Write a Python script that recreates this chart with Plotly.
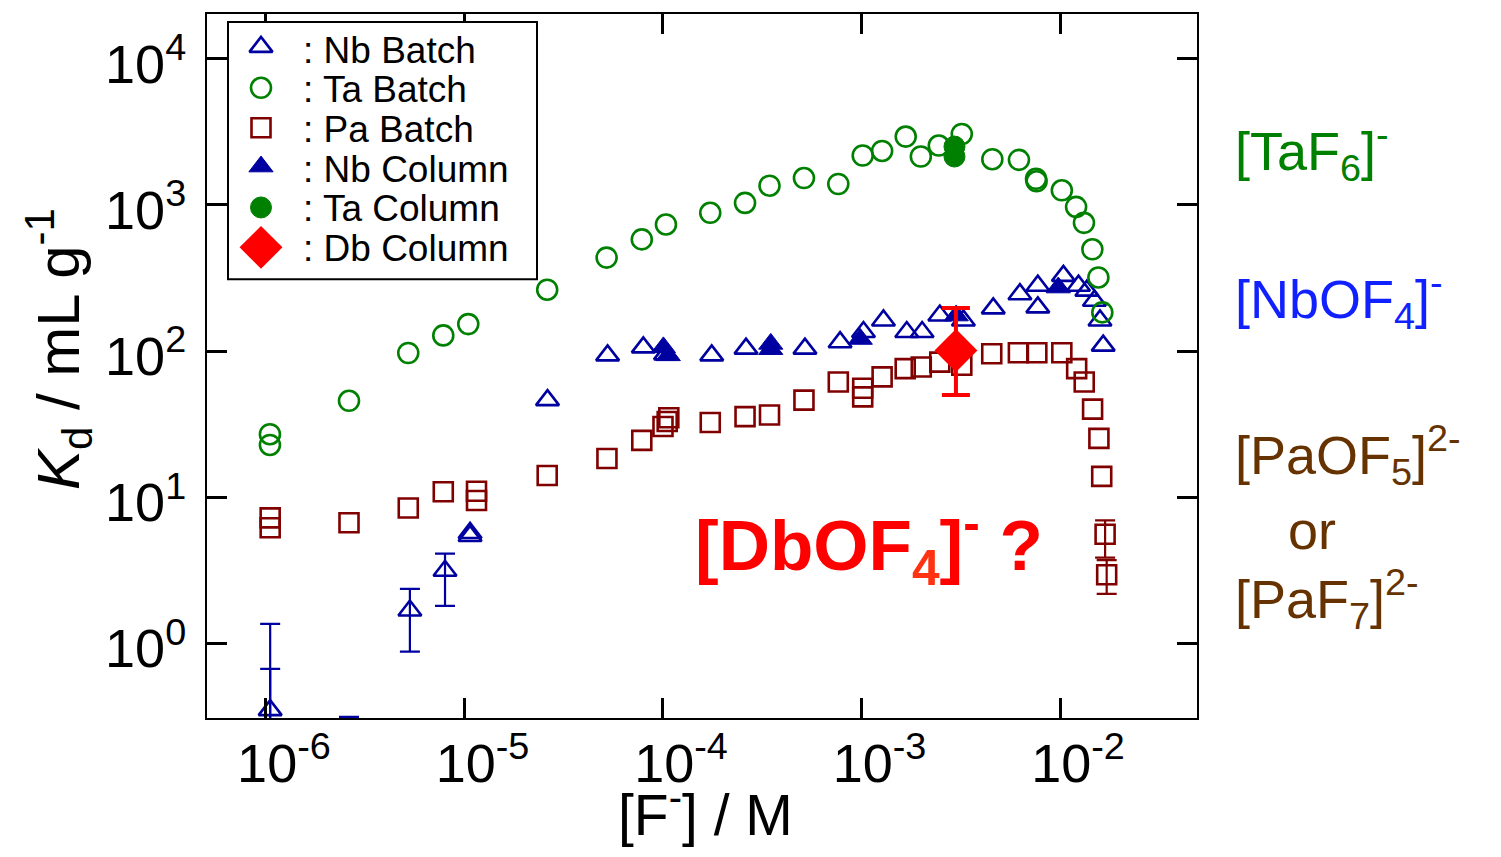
import plotly.graph_objects as go

# ---------------- data ----------------
ta_batch_x = [1.047e-6, 1.047e-6, 2.62e-6, 5.21e-6, 7.82e-6, 1.045e-5, 2.61e-5, 5.2e-5, 7.82e-5,
              1.035e-4, 1.73e-4, 2.59e-4, 3.44e-4, 5.13e-4, 7.64e-4, 1.014e-3, 1.27e-3, 1.67e-3,
              1.99e-3, 2.45e-3, 3.2e-3, 4.56e-3, 6.21e-3, 7.57e-3, 7.62e-3, 1.021e-2, 1.205e-2,
              1.32e-2, 1.455e-2, 1.56e-2, 1.633e-2]
ta_batch_y = [27, 22.8, 45.7, 97, 128, 153, 263, 436, 581,
              735, 883, 1032, 1353, 1527, 1390, 2178, 2340, 2933,
              2143, 2548, 3055, 2055, 2033, 1510, 1450, 1259, 969,
              754, 497, 319, 184]

ta_col_x = [2.94e-3, 2.94e-3]
ta_col_y = [2507, 2143]

nb_batch_x = [2.62e-5, 5.26e-5, 7.96e-5, 1.03e-4, 1.76e-4, 2.62e-4, 5.19e-4, 7.8e-4, 1.023e-3,
              1.29e-3, 1.69e-3, 2.02e-3, 2.48e-3, 3.26e-3, 4.61e-3, 6.28e-3, 7.73e-3, 7.73e-3,
              1.04e-2, 1.239e-2, 1.365e-2, 1.49e-2, 1.59e-2, 1.65e-2, 1.067e-5, 1.067e-5]
nb_batch_y = [46.2, 93.5, 106, 95, 93.5, 104, 104, 115, 135,
              162, 135, 135, 175, 162, 196, 245, 280, 199,
              327, 280, 259, 221, 162, 109, 5.43, 5.7]

# Nb batch points carrying visible error bars (two lie below the axis range)
nb_err_x = [1.05e-6, 1.05e-6, 2.62e-6, 5.31e-6, 7.98e-6]
nb_err_y = [0.35, 0.2, 0.15, 1.68, 3.14]
nb_err_plus = [1.01, 0.47, 0.165, 0.68, 0.97]
nb_err_minus = [0.3, 0.1, 0.05, 0.8, 1.33]

nb_col_x = [1.005e-4, 1.063e-4, 3.49e-4, 3.49e-4, 9.86e-4, 3.0e-3, 9.8e-3]
nb_col_y = [106, 93.5, 112, 103, 121, 175, 272]

pa_batch_x = [1.05e-6, 1.05e-6, 2.62e-6, 5.21e-6, 7.82e-6, 1.15e-5, 1.15e-5, 2.61e-5, 5.22e-5,
              7.82e-5, 1.0e-4, 1.05e-4, 1.07e-4, 1.73e-4, 2.59e-4, 3.44e-4, 5.13e-4, 7.64e-4,
              1.014e-3, 1.014e-3, 1.27e-3, 1.66e-3, 2.0e-3, 2.48e-3, 3.2e-3, 4.53e-3, 6.17e-3,
              7.64e-3, 1.021e-2, 1.213e-2, 1.324e-2, 1.459e-2, 1.57e-2, 1.622e-2]
pa_batch_y = [7.23, 6.18, 6.69, 8.45, 10.9, 11.0, 9.5, 14.1, 18.4,
              24.5, 30.5, 33, 35, 32.5, 35.6, 36.5, 46.2, 61.5,
              55.7, 48.6, 66.6, 75.9, 77.9, 84, 80, 96, 97.5,
              97.5, 97.5, 75.9, 61.5, 40.1, 25.3, 13.9]

pa_err_x = [1.687e-2, 1.718e-2]
pa_err_y = [5.58, 2.95]
pa_err_plus = [1.36, 0.76]
pa_err_minus = [1.72, 0.77]

db_x = [2.99e-3]
db_y = [101]
db_err_plus = [96]
db_err_minus = [51]

x_tickvals = [1e-6, 1e-5, 1e-4, 1e-3, 1e-2]
x_ticktext = ["10<sup>-6</sup>", "10<sup>-5</sup>", "10<sup>-4</sup>", "10<sup>-3</sup>", "10<sup>-2</sup>"]
y_tickvals = [1, 10, 100, 1000, 10000]
y_ticktext = ["10<sup>0</sup>", "10<sup>1</sup>", "10<sup>2</sup>", "10<sup>3</sup>", "10<sup>4</sup>"]

legend_names = [": Nb Batch", ": Ta Batch", ": Pa Batch", ": Nb Column", ": Ta Column", ": Db Column"]

# ---------------- style ----------------
NB = "#0000A0"
TA = "#008000"
PA = "#800000"
DB = "#FF0000"
FONT = "Arial, Liberation Sans, sans-serif"

# page body has an 8px margin; plot area in page pixels: x 207..1197, y 12..718
OFF = 8
W, H = 1501 - 2 * OFF, 857 - 2 * OFF
PL, PR, PT, PB = 207, 1197, 12, 718


def px(xp):
    return (xp - PL) / (PR - PL)


def py(yp):
    return 1 - (yp - PT) / (PB - PT)


open_line = 2.6
styles = {
    "nbb": dict(symbol="triangle-up-open", size=20, color=NB, line=dict(width=open_line, color=NB)),
    "tab": dict(symbol="circle-open", size=20, color=TA, line=dict(width=open_line, color=TA)),
    "pab": dict(symbol="square-open", size=19, color=PA, line=dict(width=open_line, color=PA)),
    "nbc": dict(symbol="triangle-up", size=21, color=NB, line=dict(width=1, color=NB)),
    "tac": dict(symbol="circle", size=21, color=TA, line=dict(width=1, color=TA)),
    "dbc": dict(symbol="diamond", size=33, color=DB, line=dict(width=0)),
}

fig = go.Figure()

fig.add_trace(go.Scatter(x=nb_batch_x, y=nb_batch_y, mode="markers", name=legend_names[0],
                         marker=styles["nbb"]))
fig.add_trace(go.Scatter(x=nb_err_x, y=nb_err_y, mode="markers", name=legend_names[0],
                         marker=styles["nbb"],
                         error_y=dict(type="data", array=nb_err_plus, arrayminus=nb_err_minus,
                                      color=NB, thickness=2.2, width=10)))
fig.add_trace(go.Scatter(x=ta_batch_x, y=ta_batch_y, mode="markers", name=legend_names[1],
                         marker=styles["tab"]))
fig.add_trace(go.Scatter(x=pa_batch_x, y=pa_batch_y, mode="markers", name=legend_names[2],
                         marker=styles["pab"]))
fig.add_trace(go.Scatter(x=pa_err_x, y=pa_err_y, mode="markers", name=legend_names[2],
                         marker=styles["pab"],
                         error_y=dict(type="data", array=pa_err_plus, arrayminus=pa_err_minus,
                                      color=PA, thickness=2.2, width=10)))
fig.add_trace(go.Scatter(x=nb_col_x, y=nb_col_y, mode="markers", name=legend_names[3],
                         marker=styles["nbc"]))
fig.add_trace(go.Scatter(x=ta_col_x, y=ta_col_y, mode="markers", name=legend_names[4],
                         marker=styles["tac"]))
fig.add_trace(go.Scatter(x=db_x, y=db_y, mode="markers", name=legend_names[5],
                         marker=styles["dbc"],
                         error_y=dict(type="data", array=db_err_plus, arrayminus=db_err_minus,
                                      color=DB, thickness=4, width=14)))

# ---- legend key drawn on an invisible overlay axis measured in page pixels ----
leg_sym_x = [261] * 6
leg_sym_y = [45, 86, 126, 165, 206, 246]
leg_text_y = [49, 88, 128, 168, 207, 247]
for key, sx, sy in zip(["nbb", "tab", "pab", "nbc", "tac", "dbc"], leg_sym_x, leg_sym_y):
    fig.add_trace(go.Scatter(x=[sx], y=[sy], xaxis="x2", yaxis="y2", mode="markers",
                             marker=styles[key], hoverinfo="skip", showlegend=False))

axis_common = dict(type="log", showline=True, linecolor="black", linewidth=2, mirror="ticks",
                   ticks="inside", ticklen=20, tickwidth=2.5, tickcolor="black",
                   showgrid=False, zeroline=False,
                   tickfont=dict(family=FONT, size=54, color="black"))

fig.update_layout(
    width=W, height=H,
    margin=dict(l=PL - OFF, r=W - (PR - OFF), t=PT - OFF, b=H - (PB - OFF)),
    paper_bgcolor="white", plot_bgcolor="white",
    font=dict(family=FONT, color="black"),
    showlegend=False,
    xaxis=dict(range=[-6.297, -1.31], tickvals=x_tickvals, ticktext=x_ticktext,
               ticklabelstandoff=-3, ticklabelshift=18,
               **axis_common),
    yaxis=dict(range=[-0.51, 4.306], tickvals=y_tickvals, ticktext=y_ticktext,
               ticklabelstandoff=8, ticklabelshift=5,
               **axis_common),
    xaxis2=dict(overlaying="x", anchor="y2", range=[PL, PR], visible=False),
    yaxis2=dict(overlaying="y", anchor="x2", range=[PB, PT], visible=False),
)

# axis titles
fig.add_annotation(text="[F<sup>-</sup>] / M", xref="paper", yref="paper",
                   x=px(705), y=py(849 - OFF + 8), showarrow=False,
                   xanchor="center", yanchor="bottom",
                   font=dict(family=FONT, size=57, color="black"))
fig.add_annotation(text="<i>K</i><sub>d</sub> / mL g<sup>-1</sup>", xref="paper", yref="paper",
                   x=px(58), y=py(348), textangle=-90, showarrow=False,
                   xanchor="center", yanchor="middle",
                   font=dict(family=FONT, size=60, color="black"))

# legend frame and labels (white strip hides the top ticks inside the frame)
fig.add_shape(type="rect", xref="x2", yref="y2", x0=229, x1=536, y0=21, y1=33,
              line=dict(width=0), fillcolor="white", layer="above")
fig.add_shape(type="rect", xref="x2", yref="y2", x0=228, x1=537, y0=20, y1=278,
              line=dict(color="black", width=2), fillcolor="rgba(0,0,0,0)", layer="above")
for name, ty in zip(legend_names, leg_text_y):
    fig.add_annotation(text=name, xref="paper", yref="paper", x=px(301), y=py(ty),
                       xanchor="left", yanchor="middle", showarrow=False,
                       font=dict(family=FONT, size=37, color="black"))

ann = [
    dict(text="[TaF<sub>6</sub>]<sup>-</sup>", x=1233, y=149, color=TA),
    dict(text="[NbOF<sub>4</sub>]<sup>-</sup>", x=1233, y=298, color="#1020FF"),
    dict(text="[PaOF<sub>5</sub>]<sup>2-</sup>", x=1233, y=454, color="#663300"),
    dict(text="or", x=1286, y=529, color="#663300"),
    dict(text="[PaF<sub>7</sub>]<sup>2-</sup>", x=1233, y=599, color="#663300"),
]
for a in ann:
    fig.add_annotation(text=a["text"], xref="paper", yref="paper", x=px(a["x"]), y=py(a["y"]),
                       xanchor="left", yanchor="middle", showarrow=False,
                       font=dict(family=FONT, size=54, color=a["color"]))

fig.add_annotation(text="<b>[DbOF<sub><span style='color:#FF3311'>4</span></sub>]<sup>-</sup> ?</b>",
                   xref="paper", yref="paper", x=px(693), y=py(545),
                   xanchor="left", yanchor="middle", showarrow=False,
                   font=dict(family=FONT, size=71, color=DB))

fig.write_html("out.html")
